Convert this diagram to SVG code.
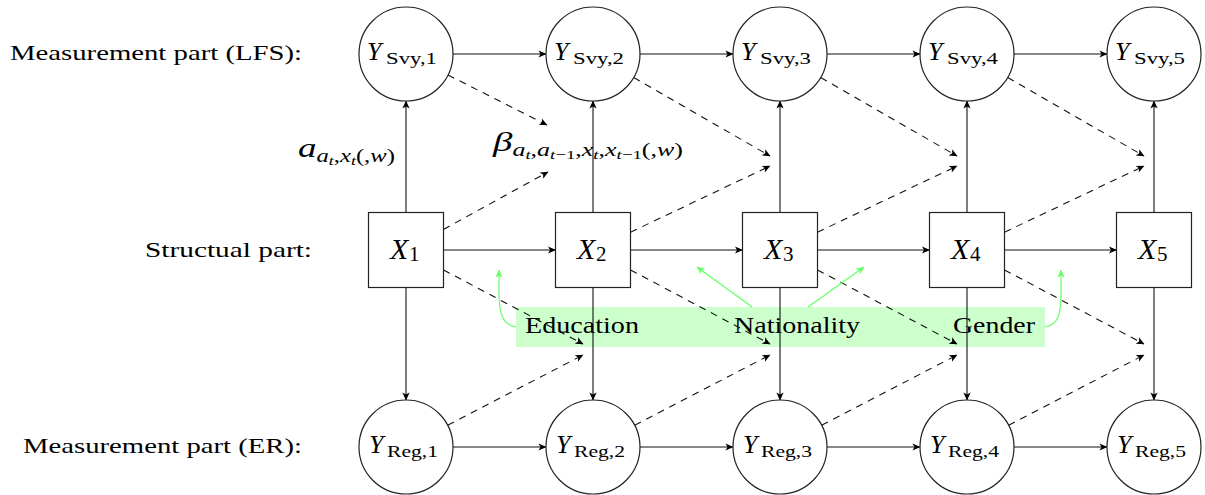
<svg xmlns="http://www.w3.org/2000/svg" width="1205" height="495" viewBox="0 0 1205 495">
<style>
text{font-family:"Liberation Serif","DejaVu Serif",serif;fill:#000}
.it{font-style:italic}
.lbl{font-size:22px}
.gt{font-size:24px}
.node{fill:#fff;stroke:#222;stroke-width:1.2}
.e{fill:none;stroke:#111;stroke-width:1.1;marker-end:url(#ah)}
.d{fill:none;stroke:#111;stroke-width:1.1;stroke-dasharray:7 6;marker-end:url(#ah)}
.g{fill:none;stroke:#66ff66;stroke-width:1.2;marker-end:url(#ahg)}
.Y{font-size:26px;font-style:italic}
.Ys{font-size:17px}
.X{font-size:30px;font-style:italic}
.Xs{font-size:21px}
</style>
<defs>
<marker id="ah" viewBox="-9 -5 10 10" refX="0" refY="0" markerWidth="10" markerHeight="10" markerUnits="userSpaceOnUse" orient="auto">
<path d="M0.5,0 L-7.5,-3.6 L-5.5,0 L-7.5,3.6 Z" fill="#000"/>
</marker>
<marker id="ahg" viewBox="-9 -5 10 10" refX="0" refY="0" markerWidth="10" markerHeight="10" markerUnits="userSpaceOnUse" orient="auto">
<path d="M0.5,0 L-7.5,-3.6 L-5.5,0 L-7.5,3.6 Z" fill="#66ff66"/>
</marker>
</defs>
<rect width="1205" height="495" fill="#fff"/>

<g id="row-labels">
<text class="lbl" x="10" y="60" textLength="292" lengthAdjust="spacingAndGlyphs">Measurement part (LFS):</text>
<text class="lbl" x="145" y="257" textLength="167" lengthAdjust="spacingAndGlyphs">Structual part:</text>
<text class="lbl" x="23" y="453" textLength="279" lengthAdjust="spacingAndGlyphs">Measurement part (ER):</text>
</g>

<g id="covariates">
<rect x="516" y="307" width="529" height="40" fill="#ccffcc"/>
<text class="gt" x="525" y="333" textLength="114" lengthAdjust="spacingAndGlyphs">Education</text>
<text class="gt" x="734" y="333" textLength="126" lengthAdjust="spacingAndGlyphs">Nationality</text>
<text class="gt" x="953" y="333" textLength="82" lengthAdjust="spacingAndGlyphs">Gender</text>
</g>

<g id="connectors">
<line class="e" x1="453" y1="54" x2="546" y2="54"/>
<line class="e" x1="640" y1="54" x2="733" y2="54"/>
<line class="e" x1="827" y1="54" x2="920" y2="54"/>
<line class="e" x1="1014" y1="54" x2="1107" y2="54"/>
<line class="e" x1="443.5" y1="250" x2="555.5" y2="250"/>
<line class="e" x1="630.5" y1="250" x2="742.5" y2="250"/>
<line class="e" x1="817.5" y1="250" x2="929.5" y2="250"/>
<line class="e" x1="1004.5" y1="250" x2="1116.5" y2="250"/>
<line class="e" x1="453" y1="447" x2="546" y2="447"/>
<line class="e" x1="640" y1="447" x2="733" y2="447"/>
<line class="e" x1="827" y1="447" x2="920" y2="447"/>
<line class="e" x1="1014" y1="447" x2="1107" y2="447"/>
<line class="e" x1="406" y1="212.5" x2="406" y2="101"/>
<line class="e" x1="593" y1="212.5" x2="593" y2="101"/>
<line class="e" x1="780" y1="212.5" x2="780" y2="101"/>
<line class="e" x1="967" y1="212.5" x2="967" y2="101"/>
<line class="e" x1="1154" y1="212.5" x2="1154" y2="101"/>
<line class="e" x1="406" y1="287.5" x2="406" y2="400"/>
<line class="e" x1="593" y1="287.5" x2="593" y2="400"/>
<line class="e" x1="780" y1="287.5" x2="780" y2="400"/>
<line class="e" x1="967" y1="287.5" x2="967" y2="400"/>
<line class="e" x1="1154" y1="287.5" x2="1154" y2="400"/>
<line class="d" x1="448" y1="75" x2="547" y2="125"/>
<line class="d" x1="633.7" y1="77.5" x2="770" y2="156"/>
<line class="d" x1="820.7" y1="77.5" x2="957" y2="156"/>
<line class="d" x1="1007.7" y1="77.5" x2="1144" y2="156"/>
<line class="d" x1="443.5" y1="229.4" x2="548" y2="172"/>
<line class="d" x1="630.5" y1="232.2" x2="770" y2="166"/>
<line class="d" x1="817.5" y1="232.2" x2="957" y2="166"/>
<line class="d" x1="1004.5" y1="232.2" x2="1144" y2="166"/>
<line class="d" x1="443.5" y1="269.9" x2="583" y2="344"/>
<line class="d" x1="630.5" y1="269.9" x2="770" y2="344"/>
<line class="d" x1="817.5" y1="269.9" x2="957" y2="344"/>
<line class="d" x1="1004.5" y1="269.9" x2="1144" y2="344"/>
<line class="d" x1="447.7" y1="425.3" x2="583" y2="355"/>
<line class="d" x1="634.7" y1="425.3" x2="770" y2="355"/>
<line class="d" x1="821.7" y1="425.3" x2="957" y2="355"/>
<line class="d" x1="1008.7" y1="425.3" x2="1144" y2="355"/>
<path class="g" d="M516,327 C501,325 499,310 499,292 L499,270"/>
<path class="g" d="M752,307 L697,267"/>
<path class="g" d="M808,307 L864,267"/>
<path class="g" d="M1045,327 C1060,325 1061,310 1061,292 L1061,270"/>
</g>

<g id="edge-labels">
<text x="298" y="157" textLength="97" lengthAdjust="spacingAndGlyphs"><tspan class="it" font-size="27">a</tspan><tspan class="it" font-size="18" dy="5">a</tspan><tspan class="it" font-size="13" dy="3">t</tspan><tspan font-size="18" dy="-3">,</tspan><tspan class="it" font-size="18">x</tspan><tspan class="it" font-size="13" dy="3">t</tspan><tspan font-size="18" dy="-3">(,</tspan><tspan class="it" font-size="18">w</tspan><tspan font-size="18">)</tspan></text>
<text x="493" y="151" textLength="190" lengthAdjust="spacingAndGlyphs"><tspan class="it" font-size="27">β</tspan><tspan class="it" font-size="18" dy="5">a</tspan><tspan class="it" font-size="13" dy="3">t</tspan><tspan font-size="18" dy="-3">,</tspan><tspan class="it" font-size="18">a</tspan><tspan class="it" font-size="13" dy="3">t</tspan><tspan font-size="13">−1</tspan><tspan font-size="18" dy="-3">,</tspan><tspan class="it" font-size="18">x</tspan><tspan class="it" font-size="13" dy="3">t</tspan><tspan font-size="18" dy="-3">,</tspan><tspan class="it" font-size="18">x</tspan><tspan class="it" font-size="13" dy="3">t</tspan><tspan font-size="13">−1</tspan><tspan font-size="18" dy="-3">(,</tspan><tspan class="it" font-size="18">w</tspan><tspan font-size="18">)</tspan></text>
</g>

<g id="Ysvy1"><circle class="node" cx="406" cy="54" r="47"/><text class="Y" x="367" y="60">Y</text><text class="Ys" x="386" y="64" textLength="51" lengthAdjust="spacingAndGlyphs">Svy,1</text></g>
<g id="Ysvy2"><circle class="node" cx="593" cy="54" r="47"/><text class="Y" x="554" y="60">Y</text><text class="Ys" x="573" y="64" textLength="51" lengthAdjust="spacingAndGlyphs">Svy,2</text></g>
<g id="Ysvy3"><circle class="node" cx="780" cy="54" r="47"/><text class="Y" x="741" y="60">Y</text><text class="Ys" x="760" y="64" textLength="51" lengthAdjust="spacingAndGlyphs">Svy,3</text></g>
<g id="Ysvy4"><circle class="node" cx="967" cy="54" r="47"/><text class="Y" x="928" y="60">Y</text><text class="Ys" x="947" y="64" textLength="51" lengthAdjust="spacingAndGlyphs">Svy,4</text></g>
<g id="Ysvy5"><circle class="node" cx="1154" cy="54" r="47"/><text class="Y" x="1115" y="60">Y</text><text class="Ys" x="1134" y="64" textLength="51" lengthAdjust="spacingAndGlyphs">Svy,5</text></g>

<g id="X1"><rect class="node" x="368.5" y="212.5" width="75" height="75"/><text class="X" x="390" y="259">X</text><text class="Xs" x="409" y="261">1</text></g>
<g id="X2"><rect class="node" x="555.5" y="212.5" width="75" height="75"/><text class="X" x="577" y="259">X</text><text class="Xs" x="596" y="261">2</text></g>
<g id="X3"><rect class="node" x="742.5" y="212.5" width="75" height="75"/><text class="X" x="764" y="259">X</text><text class="Xs" x="783" y="261">3</text></g>
<g id="X4"><rect class="node" x="929.5" y="212.5" width="75" height="75"/><text class="X" x="951" y="259">X</text><text class="Xs" x="970" y="261">4</text></g>
<g id="X5"><rect class="node" x="1116.5" y="212.5" width="75" height="75"/><text class="X" x="1138" y="259">X</text><text class="Xs" x="1157" y="261">5</text></g>

<g id="Yreg1"><circle class="node" cx="406" cy="447" r="47"/><text class="Y" x="369" y="453">Y</text><text class="Ys" x="387" y="457" textLength="51" lengthAdjust="spacingAndGlyphs">Reg,1</text></g>
<g id="Yreg2"><circle class="node" cx="593" cy="447" r="47"/><text class="Y" x="556" y="453">Y</text><text class="Ys" x="574" y="457" textLength="51" lengthAdjust="spacingAndGlyphs">Reg,2</text></g>
<g id="Yreg3"><circle class="node" cx="780" cy="447" r="47"/><text class="Y" x="743" y="453">Y</text><text class="Ys" x="761" y="457" textLength="51" lengthAdjust="spacingAndGlyphs">Reg,3</text></g>
<g id="Yreg4"><circle class="node" cx="967" cy="447" r="47"/><text class="Y" x="930" y="453">Y</text><text class="Ys" x="948" y="457" textLength="51" lengthAdjust="spacingAndGlyphs">Reg,4</text></g>
<g id="Yreg5"><circle class="node" cx="1154" cy="447" r="47"/><text class="Y" x="1117" y="453">Y</text><text class="Ys" x="1135" y="457" textLength="51" lengthAdjust="spacingAndGlyphs">Reg,5</text></g>
</svg>
